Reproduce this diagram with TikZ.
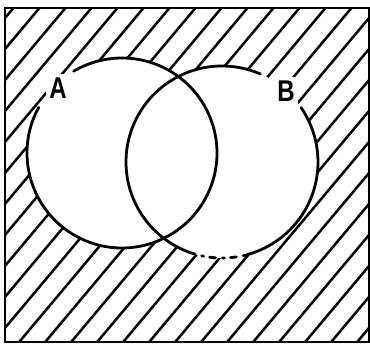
\documentclass[tikz,border=0pt]{standalone}
\usepackage{fontspec}
\setsansfont{Liberation Sans}
\begin{document}
\begin{tikzpicture}[x=1pt,y=1pt,
  outline/.style={line width=2.8pt,line cap=round},
  hatchline/.style={line width=2.5pt},
  setlabel/.style={font=\sffamily\bfseries\fontsize{30}{30}\selectfont,xscale=0.8,inner sep=4pt,fill=white}]
\useasboundingbox (0,0) rectangle (370,347);
% frame corners
\coordinate (fbl) at (5,5);
\coordinate (ftr) at (369,339);
\coordinate (ca) at (122,194);
\coordinate (cb) at (222,185);
% hatching clipped to the frame
\begin{scope}
  \clip (fbl) rectangle (ftr);
  \foreach \k in {-12,...,14}{
    \draw[hatchline] ({15+26*\k},0) -- ++(50:460);
  }
\end{scope}
% white interiors of the sets
\fill[white] (ca) circle[radius=95];
\fill[white] (cb) circle[radius=96];
% frame (left side broken)
\draw[outline] (5,127) -- (5,5) -- (369,5) -- (369,339) -- (5,339) -- (5,120);
% circle A with gap at the label
\draw[outline] (ca) ++(151.3:95) arc[start angle=151.3,end angle=480.6,radius=95];
% circle B with gap at the label, broken near the bottom
\draw[outline] (cb) ++(66.4:96) arc[start angle=66.4,end angle=250,radius=96];
\draw[outline,dash pattern=on 6pt off 7pt on 2pt off 6pt] (cb) ++(250:96) arc[start angle=250,end angle=285,radius=96];
\draw[outline] (cb) ++(285:96) arc[start angle=285,end angle=394.5,radius=96];
% labels
\node[setlabel] (la) at (58,259) {A};
\node[setlabel] (lb) at (286,256) {B};
\end{tikzpicture}
\end{document}
